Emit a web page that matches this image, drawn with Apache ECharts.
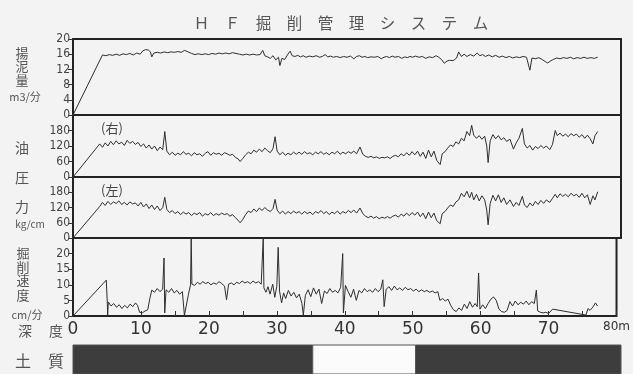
<!DOCTYPE html>
<html>
<head>
<meta charset="utf-8">
<script src="https://cdn.jsdelivr.net/npm/echarts@6/dist/echarts.min.js"></script>
<style>
  html, body { margin: 0; padding: 0; background: #f3f3f3; }
  #chart { width: 633px; height: 374px; }
</style>
</head>
<body>
<div id="chart"></div>
<script>
// depth [m], value pairs
const flow = [
  [0,0],[4.3,15.8],[4.8,15.6],[5.3,15.9],[5.8,15.7],[6.3,16.0],[6.8,15.7],[7.3,16.1],[7.8,15.9],[8.3,16.2],[8.8,15.8],[9.3,16.3],[9.8,16.0],[10.2,16.9],[10.6,17.2],[11.0,17.1],[11.3,16.6],[11.5,15.3],[11.8,16.3],[12.3,16.5],[12.8,16.3],[13.3,16.6],[13.8,16.4],[14.3,16.6],[14.8,16.5],[15.3,16.7],[15.8,16.5],[16.3,17.0],[16.8,16.6],[17.3,16.2],[17.8,15.9],[18.3,16.1],[18.8,15.9],[19.3,16.1],[19.8,15.9],[20.3,16.2],[20.8,16.0],[21.3,16.3],[21.8,16.1],[22.3,16.3],[22.8,16.1],[23.3,16.4],[23.8,16.2],[24.3,16.0],[24.8,15.8],[25.3,16.0],[25.8,15.8],[26.3,16.0],[26.8,15.8],[27.3,15.9],[27.7,17.0],[28.0,15.6],[28.4,15.3],[28.8,14.9],[29.2,15.6],[29.6,14.5],[30.0,15.2],[30.2,13.0],[30.5,14.9],[30.9,14.6],[31.3,15.8],[31.7,16.8],[32.0,15.6],[32.4,15.4],[32.8,15.7],[33.2,15.3],[33.6,15.6],[34.0,15.2],[34.5,15.5],[35.0,15.3],[35.5,15.6],[36.0,15.2],[36.4,15.4],[36.8,15.9],[37.2,15.3],[37.6,15.5],[38.0,15.2],[38.5,15.4],[39.0,15.1],[39.5,15.4],[40.0,15.2],[40.5,15.5],[41.0,14.8],[41.4,15.4],[41.8,15.6],[42.2,15.2],[42.6,15.4],[43.0,15.1],[43.5,15.3],[44.0,15.2],[44.5,15.4],[45.0,14.8],[45.4,15.2],[45.8,15.4],[46.2,15.1],[46.6,15.5],[47.0,15.2],[47.5,15.4],[48.0,14.9],[48.4,15.3],[48.8,15.1],[49.2,15.4],[49.6,15.2],[50.0,15.5],[50.5,15.2],[51.0,15.4],[51.5,14.9],[52.0,15.3],[52.5,15.1],[53.0,15.6],[53.4,15.2],[53.8,14.6],[54.2,13.6],[54.6,14.2],[55.0,14.4],[55.5,14.3],[56.0,15.0],[56.3,16.6],[56.7,15.4],[57.1,16.0],[57.5,15.4],[58.0,15.9],[58.5,15.5],[59.0,16.3],[59.4,15.6],[59.8,15.9],[60.2,15.4],[60.7,15.8],[61.2,15.3],[61.7,15.7],[62.2,15.2],[62.7,15.5],[63.2,15.1],[63.7,15.4],[64.2,15.0],[64.7,15.3],[65.2,15.1],[65.7,15.4],[66.2,15.2],[66.7,11.8],[67.0,15.0],[67.5,14.8],[68.0,15.1],[68.5,14.6],[69.0,14.0],[69.3,13.7],[69.7,14.2],[70.1,14.6],[70.6,15.0],[71.1,14.8],[71.6,15.1],[72.1,14.9],[72.6,15.2],[73.1,14.8],[73.6,15.1],[74.1,14.9],[74.6,15.2],[75.1,14.9],[75.6,15.1],[76.1,14.9],[76.6,15.2]
];

const oilRight = [
  [0,0],[3.9,128],[4.3,115],[4.7,132],[5.1,120],[5.5,138],[5.9,125],[6.3,140],[6.7,128],[7.1,135],[7.5,122],[7.9,142],[8.3,130],[8.7,138],[9.1,126],[9.5,134],[9.9,118],[10.3,128],[10.7,112],[11.1,124],[11.5,108],[11.9,120],[12.3,102],[12.7,116],[13.1,106],[13.4,176],[13.7,100],[14.1,86],[14.5,96],[14.9,84],[15.3,92],[15.7,86],[16.1,98],[16.5,88],[16.9,92],[17.3,82],[17.7,94],[18.1,86],[18.5,90],[18.9,80],[19.3,92],[19.7,98],[20.1,84],[20.5,94],[20.9,88],[21.3,92],[21.7,84],[22.1,94],[22.5,90],[22.9,84],[23.3,88],[23.7,76],[24.1,70],[24.4,60],[24.8,72],[25.2,86],[25.6,96],[26.0,90],[26.4,104],[26.8,96],[27.2,108],[27.6,98],[28.0,112],[28.4,102],[28.8,94],[29.2,110],[29.5,156],[29.8,100],[30.2,86],[30.6,96],[31.0,84],[31.4,92],[31.8,86],[32.2,96],[32.6,88],[33.0,96],[33.4,88],[33.8,98],[34.2,90],[34.6,94],[35.0,86],[35.4,96],[35.8,90],[36.2,98],[36.6,88],[37.0,94],[37.4,86],[37.8,96],[38.2,90],[38.6,100],[39.0,88],[39.4,96],[39.8,90],[40.2,98],[40.6,92],[41.0,100],[41.4,90],[41.9,116],[42.3,88],[42.7,80],[43.1,76],[43.5,80],[43.9,74],[44.3,78],[44.7,72],[45.1,76],[45.5,74],[45.9,78],[46.3,72],[46.7,80],[47.1,84],[47.5,78],[47.9,90],[48.3,82],[48.7,94],[49.1,84],[49.5,98],[49.9,86],[50.3,100],[50.7,80],[51.1,96],[51.5,72],[51.9,104],[52.3,78],[52.7,100],[53.1,64],[53.6,48],[53.9,90],[54.3,98],[54.7,112],[55.1,124],[55.5,118],[55.9,136],[56.3,128],[56.7,150],[57.1,140],[57.5,176],[57.9,160],[58.2,200],[58.5,162],[58.9,150],[59.3,160],[59.7,146],[60.1,158],[60.4,120],[60.6,56],[60.9,140],[61.3,164],[61.7,148],[62.1,160],[62.5,144],[62.9,152],[63.3,138],[63.8,146],[64.3,108],[64.7,132],[65.1,150],[65.6,188],[65.9,128],[66.3,112],[66.7,122],[67.1,104],[67.5,118],[67.9,110],[68.3,122],[68.7,112],[69.1,120],[69.6,106],[70.0,126],[70.4,180],[70.7,160],[71.1,170],[71.5,158],[71.9,166],[72.3,156],[72.7,168],[73.1,160],[73.5,166],[73.9,154],[74.3,164],[74.7,150],[75.1,162],[75.5,148],[75.9,128],[76.2,160],[76.6,176]
];

const oilLeft = [
  [0,0],[3.9,124],[4.3,140],[4.7,128],[5.1,144],[5.5,132],[5.9,142],[6.3,136],[6.7,146],[7.1,132],[7.5,140],[7.9,130],[8.3,142],[8.7,134],[9.1,138],[9.5,126],[9.9,140],[10.3,122],[10.7,134],[11.1,116],[11.5,130],[11.9,112],[12.3,126],[12.7,108],[13.1,120],[13.4,160],[13.7,112],[14.1,100],[14.5,108],[14.9,96],[15.3,104],[15.7,92],[16.1,102],[16.5,94],[16.9,100],[17.3,88],[17.7,98],[18.1,92],[18.5,100],[18.9,86],[19.3,96],[19.7,90],[20.1,100],[20.5,88],[20.9,96],[21.3,90],[21.7,98],[22.1,92],[22.5,96],[22.9,86],[23.3,92],[23.7,80],[24.1,70],[24.4,60],[24.8,74],[25.2,92],[25.6,106],[26.0,100],[26.4,114],[26.8,104],[27.2,118],[27.6,108],[28.0,120],[28.4,110],[28.8,104],[29.2,116],[29.5,152],[29.8,110],[30.2,96],[30.6,106],[31.0,94],[31.4,104],[31.8,96],[32.2,106],[32.6,98],[33.0,104],[33.4,94],[33.8,104],[34.2,96],[34.6,102],[35.0,92],[35.4,104],[35.8,98],[36.2,108],[36.6,96],[37.0,104],[37.4,92],[37.8,102],[38.2,96],[38.6,106],[39.0,94],[39.4,104],[39.8,98],[40.2,108],[40.6,100],[41.0,110],[41.4,98],[41.9,118],[42.3,96],[42.7,86],[43.1,80],[43.5,86],[43.9,78],[44.3,84],[44.7,76],[45.1,82],[45.5,78],[45.9,84],[46.3,78],[46.7,86],[47.1,90],[47.5,82],[47.9,94],[48.3,86],[48.7,98],[49.1,88],[49.5,100],[49.9,90],[50.3,102],[50.7,84],[51.1,98],[51.5,76],[51.9,102],[52.3,80],[52.7,98],[53.1,68],[53.6,56],[53.9,96],[54.3,104],[54.7,118],[55.1,130],[55.5,124],[55.9,142],[56.3,150],[56.7,176],[57.1,162],[57.5,184],[57.9,158],[58.2,180],[58.5,150],[58.9,172],[59.3,146],[59.7,166],[60.1,150],[60.4,110],[60.6,52],[60.9,136],[61.3,168],[61.7,146],[62.1,170],[62.5,140],[62.9,158],[63.3,132],[63.8,150],[64.3,124],[64.7,140],[65.1,128],[65.6,164],[65.9,130],[66.3,120],[66.7,138],[67.1,126],[67.5,144],[67.9,132],[68.3,148],[68.7,136],[69.1,150],[69.6,140],[70.0,156],[70.4,172],[70.7,158],[71.1,174],[71.5,164],[71.9,172],[72.3,162],[72.7,176],[73.1,166],[73.5,172],[73.9,160],[74.3,176],[74.7,158],[75.1,170],[75.5,132],[75.9,166],[76.2,150],[76.6,182]
];

const speed = [
  [0,0],[4.9,11.5],[5.05,4.2],[5.1,0.2],[5.2,4.5],[5.6,3.2],[6.0,4.0],[6.4,2.8],[6.8,3.6],[7.2,2.4],[7.6,3.4],[8.0,2.6],[8.4,3.8],[8.8,3.0],[9.2,4.2],[9.5,3.4],[9.8,1.2],[10.2,1.0],[10.6,1.6],[11.0,2.0],[11.3,5.5],[11.6,8.3],[12.0,7.6],[12.4,8.8],[12.8,7.8],[13.2,8.6],[13.4,18.6],[13.5,1.0],[13.7,8.4],[14.1,7.6],[14.5,8.8],[14.9,7.4],[15.3,8.2],[15.7,7.0],[16.1,7.8],[16.4,0.2],[17.0,7.0],[17.3,10.0],[17.4,25],[17.5,10.2],[17.9,9.8],[18.3,10.8],[18.7,10.2],[19.1,11.0],[19.5,10.4],[19.9,10.8],[20.3,10.0],[20.7,10.6],[21.1,10.2],[21.5,11.0],[21.9,10.4],[22.3,9.6],[22.6,5.2],[22.9,10.2],[23.3,10.6],[23.7,10.0],[24.1,10.8],[24.5,10.4],[24.9,11.2],[25.3,10.6],[25.7,11.0],[26.1,10.4],[26.5,11.2],[26.9,10.6],[27.3,11.0],[27.7,10.2],[28.0,25],[28.1,9.0],[28.4,7.6],[28.7,9.4],[29.0,7.0],[29.4,10.2],[29.7,6.0],[30.0,9.5],[30.2,22],[30.4,8.0],[30.7,4.2],[31.0,7.4],[31.3,5.6],[31.7,8.2],[32.1,6.4],[32.5,7.6],[32.9,5.8],[33.3,7.0],[33.7,4.0],[33.9,0.2],[34.2,6.6],[34.6,8.4],[35.0,6.2],[35.4,9.0],[35.8,7.0],[36.2,8.6],[36.6,4.0],[37.0,8.0],[37.4,7.2],[37.8,8.8],[38.2,7.6],[38.6,8.2],[39.0,7.4],[39.4,9.2],[39.7,20],[39.8,1.0],[40.1,9.8],[40.5,7.8],[40.9,6.0],[41.3,8.6],[41.7,5.0],[42.1,8.2],[42.5,7.4],[42.9,8.8],[43.3,7.8],[43.7,8.4],[44.1,7.6],[44.5,8.8],[44.9,7.8],[45.3,8.6],[45.6,11.6],[45.8,3.0],[46.1,8.6],[46.5,9.4],[46.9,8.2],[47.3,9.6],[47.7,8.4],[48.1,9.0],[48.5,8.2],[48.9,9.2],[49.3,8.4],[49.7,8.8],[50.1,8.0],[50.5,8.6],[50.9,7.8],[51.3,8.4],[51.7,7.8],[52.1,8.2],[52.5,7.6],[52.9,8.0],[53.3,7.4],[53.7,7.8],[54.0,5.0],[54.4,5.6],[54.8,4.8],[55.2,5.4],[55.6,3.4],[56.0,2.0],[56.4,1.4],[56.8,2.6],[57.2,1.8],[57.6,3.8],[58.0,2.4],[58.4,4.6],[58.8,2.8],[59.2,4.0],[59.5,3.0],[59.7,13.8],[59.9,2.2],[60.3,3.6],[60.7,2.4],[61.1,4.0],[61.5,5.4],[61.9,6.1],[62.3,5.0],[62.7,2.2],[63.1,1.4],[63.5,1.2],[63.9,1.8],[64.3,4.6],[64.7,3.2],[65.1,4.8],[65.5,3.6],[65.9,4.4],[66.3,3.8],[66.7,4.8],[67.1,3.6],[67.5,4.6],[67.9,4.0],[68.2,8.3],[68.4,1.6],[68.8,1.2],[69.2,1.0],[69.6,1.2],[70.0,0.8],[70.6,2.2],[75.5,0.3],[75.8,2.4],[76.1,1.8],[76.5,2.8],[76.9,4.2],[77.2,3.2]
];

// soil strip: start, end, dark(1)/blank(0)
const soilStart = [0, 35, 50];
const soilEnd = [35, 50, 80];
const soilDark = [1, 0, 1];

const chart = echarts.init(document.getElementById('chart'));

const LINE = '#2e2e2e';
const CJK = '"Noto Sans CJK JP", "Noto Sans", sans-serif';

const grids = [
  { top: 39, height: 76 },
  { top: 115, height: 62 },
  { top: 177, height: 61 },
  { top: 238, height: 78 },
  { top: 345, height: 29 }
].map((g, i) => ({
  left: 73, right: 12, top: g.top, height: g.height,
  show: i < 4, borderColor: '#222', borderWidth: 2, backgroundColor: 'transparent'
}));

function yAxis(idx, max, interval, showMax) {
  return {
    gridIndex: idx, type: 'value', min: 0, max: max, interval: interval,
    axisLine: { show: false },
    axisTick: { show: true, length: 5, lineStyle: { color: '#333' } },
    axisLabel: { fontSize: 12, color: '#444', margin: 3, showMaxLabel: showMax, fontFamily: 'DejaVu Sans Condensed, DejaVu Sans' },
    splitLine: { show: false }
  };
}

const xAxes = [0, 1, 2, 4].map(i => ({ gridIndex: i, type: 'value', min: 0, max: 80, show: false }));
xAxes.splice(3, 0, {
  gridIndex: 3, type: 'value', min: 0, max: 80, interval: 5,
  axisLine: { show: false },
  axisTick: { inside: true, length: 5, lineStyle: { color: '#333' } },
  axisLabel: {
    fontSize: 17, color: '#333', margin: 5, fontFamily: 'DejaVu Sans',
    formatter: v => (v % 10 ? '' : (v === 80 ? '{u|80m}' : String(v))),
    rich: { u: { fontSize: 12, color: '#333', fontFamily: 'DejaVu Sans' } }
  },
  splitLine: { show: false }
});

function lineSeries(idx, data) {
  return {
    type: 'line', xAxisIndex: idx, yAxisIndex: idx, data: data,
    showSymbol: false, lineStyle: { width: 1, color: LINE }, clip: true
  };
}

function txt(x, y, s, size) {
  return {
    type: 'text', x: x, y: y,
    style: { text: s, fontSize: size, fontFamily: CJK, fill: '#555', align: 'center', verticalAlign: 'middle' }
  };
}

chart.setOption({
  backgroundColor: '#f3f3f3',
  animation: false,
  grid: grids,
  xAxis: xAxes,
  yAxis: [
    yAxis(0, 20, 4, true),
    yAxis(1, 240, 60, false),
    yAxis(2, 240, 60, false),
    yAxis(3, 25, 5, false),
    { gridIndex: 4, type: 'value', min: 0, max: 1, show: false }
  ],
  series: [
    lineSeries(0, flow),
    lineSeries(1, oilRight),
    lineSeries(2, oilLeft),
    lineSeries(3, speed),
    {
      type: 'custom', xAxisIndex: 4, yAxisIndex: 4,
      data: soilStart.map((s, i) => [s, soilEnd[i], soilDark[i]]),
      renderItem: (params, api) => {
        const p0 = api.coord([api.value(0), 1]);
        const p1 = api.coord([api.value(1), 0]);
        const dark = api.value(2) === 1;
        return {
          type: 'rect',
          shape: { x: p0[0], y: p0[1], width: p1[0] - p0[0], height: p1[1] - p0[1] },
          style: { fill: dark ? '#3d3d3d' : '#fbfbfb', stroke: '#555', lineWidth: 1 }
        };
      }
    }
  ],
  graphic: [
    txt(341, 23, 'Ｈ　Ｆ　掘　削　管　理　シ　ス　テ　ム', 15.5),
    txt(22, 53, '揚', 13), txt(22, 66, '泥', 13), txt(22, 80, '量', 13),
    txt(25, 97, 'm3/分', 11),
    { type: 'text', x: 112, y: 128, style: { text: '(右)', fontSize: 13, fontFamily: CJK, fill: '#444', align: 'center', verticalAlign: 'middle' } },
    { type: 'text', x: 112, y: 190, style: { text: '(左)', fontSize: 13, fontFamily: CJK, fill: '#444', align: 'center', verticalAlign: 'middle' } },
    txt(22, 148, '油', 14), txt(22, 178, '圧', 14), txt(22, 207, '力', 14),
    txt(30, 224, 'kg/cm', 10),
    txt(23, 253, '掘', 13), txt(23, 267, '削', 13), txt(23, 280, '速', 13), txt(23, 295, '度', 13),
    txt(27, 315, 'cm/分', 11),
    txt(25, 331, '深', 14), txt(56, 331, '度', 14),
    txt(23, 361, '土', 16), txt(56, 361, '質', 16)
  ]
});
</script>
</body>
</html>
